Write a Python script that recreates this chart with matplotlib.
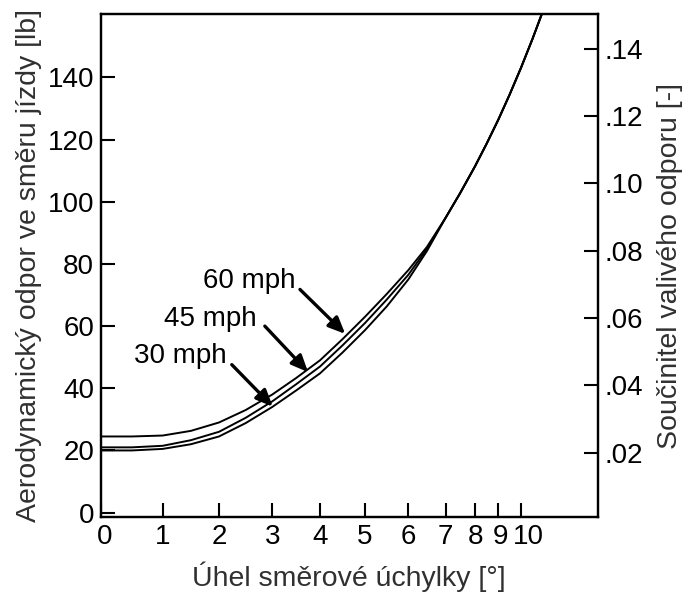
import numpy as np
import matplotlib
matplotlib.use("Agg")
import matplotlib.pyplot as plt
import matplotlib.transforms as mtransforms

plt.rcParams['font.family'] = ['Liberation Sans', 'DejaVu Sans']

# ---------------- data ----------------
angle = [0, 0.5, 1, 1.5, 2, 2.5, 3, 3.5, 4, 4.5, 5, 5.5, 6, 6.5, 7, 7.5, 8, 8.5, 9, 9.5, 10, 10.5, 10.9]
drag_60 = [24.5, 24.5, 24.8, 26.3, 29.0, 33.0, 38.0, 43.3, 49.0, 55.8, 63.0, 70.3, 78.0, 85.5,
           94.9, 102.9, 111.4, 118.7, 126.4, 134.5, 143.1, 152.4, 160.3]
drag_45 = [21.0, 21.0, 21.5, 23.3, 26.0, 30.5, 35.8, 41.3, 47.0, 53.8, 61.0, 68.5, 76.5, 84.9,
           94.9, 102.9, 111.4, 118.7, 126.4, 134.5, 143.1, 152.4, 160.3]
drag_30 = [20.0, 20.0, 20.5, 22.0, 24.5, 28.8, 34.0, 39.3, 44.8, 51.5, 58.7, 66.3, 75.0, 84.2,
           94.9, 102.9, 111.4, 118.7, 126.4, 134.5, 143.1, 152.4, 160.3]
series_labels = ['60 mph', '45 mph', '30 mph']

x_ticks = [0, 1, 2, 3, 4, 5, 6, 7, 8, 9, 10]
y_ticks = [0, 20, 40, 60, 80, 100, 120, 140]
y2_ticks = [0.02, 0.04, 0.06, 0.08, 0.10, 0.12, 0.14]
y2_ticklabels = ['.02', '.04', '.06', '.08', '.10', '.12', '.14']

# ---------------- non-uniform angle scale (as drawn in the original) ----------------
_scale_v = np.array([0, 1, 2, 3, 4, 5, 6, 7, 8, 9, 10, 14], dtype=float)
_scale_p = np.array([101, 162.7, 219, 272.3, 320, 365, 408.3, 445.7, 475, 498.3, 521, 613], dtype=float)

def _fwd(x):
    x = np.asarray(x, dtype=float)
    return np.where(x < 0, 101 + x * 61.7,
                    np.where(x > 14, 613 + (x - 14) * 23, np.interp(x, _scale_v, _scale_p)))

def _inv(p):
    p = np.asarray(p, dtype=float)
    return np.where(p < 101, (p - 101) / 61.7,
                    np.where(p > 613, 14 + (p - 613) / 23, np.interp(p, _scale_p, _scale_v)))

fig = plt.figure(figsize=(6.89, 5.92), dpi=100)
ax = fig.add_axes([0.1466, 0.1262, 0.8672 - 0.1466, 0.9758 - 0.1262])
ax.set_xscale('function', functions=(_fwd, _inv))

for vals in (drag_60, drag_45, drag_30):
    ax.plot(angle, vals, color='black', lw=1.4, solid_capstyle='butt')

ax.set_xlim(0, float(_inv(597.5)))
ax.set_ylim(-1.5, 160.3)
ax.set_xticks(x_ticks)
ax.set_xticklabels([str(t) for t in x_ticks])
ax.set_yticks(y_ticks)
ax.set_yticklabels([str(t) for t in y_ticks])
ax.xaxis.set_minor_locator(matplotlib.ticker.NullLocator())

for s in ax.spines.values():
    s.set_linewidth(1.6)
ax.tick_params(axis='both', direction='in', length=10, width=1.5, labelsize=20, colors='black')
ax.tick_params(axis='x', pad=5)
ax.tick_params(axis='y', pad=5)

# nudge crowded labels at the compressed end of the scale (as in the original)
_shift = {'0': 4, '9': 2, '10': 7}
for lbl in ax.get_xticklabels():
    dx = _shift.get(lbl.get_text(), 0)
    if dx:
        lbl.set_transform(lbl.get_transform() +
                          mtransforms.ScaledTranslation(dx / 100, 0, fig.dpi_scale_trans))

ax.set_xlabel('Úhel směrové úchylky [°]', fontsize=20.5, color='#303030', labelpad=8)
ax.set_ylabel('Aerodynamický odpor ve směru jízdy [lb]', fontsize=20.5, color='#303030', labelpad=4)

ax2 = ax.twinx()
ax2.set_ylim(0.0008, 0.1502)
ax2.set_yticks(y2_ticks)
ax2.set_yticklabels(y2_ticklabels)
ax2.tick_params(axis='y', direction='in', length=10, width=1.5, labelsize=20, pad=5)
ax2.set_ylabel('Součinitel valivého odporu [-]', fontsize=20.5, color='#303030', labelpad=10)
for s in ax2.spines.values():
    s.set_linewidth(1.6)

# annotations: labels with arrows pointing to the curves
text_pos = [(3.48, 74.4), (2.71, 62.2), (2.14, 50.5)]
arrow_start = [(3.58, 71.8), (2.86, 60.0), (2.24, 47.6)]
arrow_tip = [(4.56, 57.5), (3.75, 45.2), (3.01, 34.1)]
for lab, tp, st, tip in zip(series_labels, text_pos, arrow_start, arrow_tip):
    ax.text(tp[0], tp[1], lab, ha='right', va='center', fontsize=20, color='black')
    ax.annotate('', xy=tip, xytext=st,
                arrowprops=dict(arrowstyle='-|>,head_length=0.5,head_width=0.22', color='black', lw=2.4,
                                mutation_scale=20, shrinkA=0, shrinkB=0))

fig.savefig('out.png', dpi=100)
